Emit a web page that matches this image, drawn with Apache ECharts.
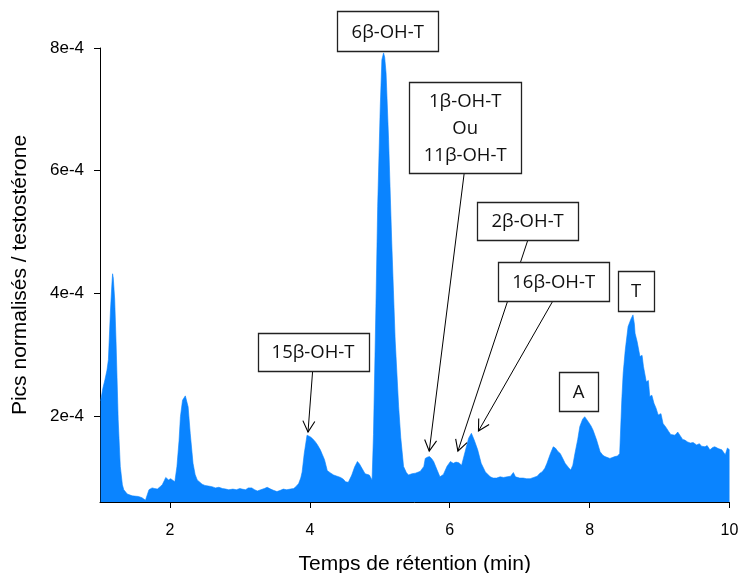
<!DOCTYPE html>
<html>
<head>
<meta charset="utf-8">
<script src="https://cdn.jsdelivr.net/npm/echarts@6/dist/echarts.min.js"></script>
<style>html,body{margin:0;padding:0;background:#fff;}#c{width:739px;height:573px;}</style>
</head>
<body>
<div id="c"></div>
<script>
// Retention time (min)
const times = [1.01,1.04,1.07,1.10,1.12,1.15,1.17,1.18,1.19,1.21,1.23,1.26,1.29,1.32,1.34,1.39,1.46,1.55,1.60,1.65,1.67,1.70,1.745,1.78,1.82,1.86,1.89,1.92,1.94,1.96,1.98,2.01,2.03,2.07,2.10,2.13,2.15,2.18,2.22,2.26,2.29,2.33,2.36,2.39,2.46,2.50,2.55,2.60,2.65,2.70,2.75,2.80,2.84,2.90,2.95,3.00,3.03,3.08,3.12,3.17,3.21,3.25,3.30,3.35,3.39,3.44,3.48,3.53,3.58,3.62,3.67,3.72,3.77,3.81,3.84,3.87,3.89,3.92,3.96,3.98,4.01,4.04,4.08,4.11,4.15,4.18,4.21,4.25,4.30,4.34,4.39,4.44,4.48,4.51,4.55,4.60,4.64,4.68,4.71,4.745,4.79,4.85,4.89,4.91,4.945,4.97,5.007,5.03,5.054,5.07,5.09,5.126,5.17,5.22,5.27,5.30,5.34,5.38,5.41,5.46,5.51,5.58,5.63,5.65,5.68,5.71,5.74,5.77,5.82,5.86,5.91,5.96,6.01,6.05,6.09,6.13,6.17,6.22,6.27,6.31,6.35,6.40,6.45,6.51,6.58,6.62,6.67,6.72,6.77,6.82,6.87,6.91,6.94,6.96,7.00,7.05,7.10,7.15,7.20,7.25,7.29,7.32,7.36,7.39,7.44,7.48,7.51,7.55,7.58,7.62,7.65,7.70,7.73,7.76,7.79,7.83,7.86,7.90,7.93,7.98,8.02,8.05,8.10,8.15,8.19,8.22,8.29,8.36,8.40,8.43,8.46,8.48,8.51,8.55,8.59,8.62,8.64,8.65,8.68,8.70,8.72,8.75,8.77,8.79,8.81,8.84,8.86,8.89,8.92,8.95,8.98,9.02,9.05,9.09,9.11,9.13,9.16,9.18,9.22,9.26,9.29,9.33,9.36,9.40,9.44,9.48,9.53,9.57,9.60,9.65,9.68,9.72,9.76,9.79,9.84,9.89,9.94,9.97,10.00];
// Normalised peaks / testosterone, in units of 1e-4
const signal = [2.25,2.45,2.59,2.75,2.92,3.73,4.15,4.32,4.25,3.90,3.19,1.94,1.18,0.88,0.80,0.73,0.70,0.69,0.67,0.63,0.62,0.80,0.83,0.82,0.81,0.85,0.88,0.95,1.00,0.97,0.96,0.98,0.97,0.93,1.18,1.60,1.99,2.26,2.33,2.15,1.72,1.23,1.05,0.96,0.89,0.87,0.86,0.85,0.83,0.84,0.82,0.81,0.80,0.81,0.80,0.82,0.81,0.80,0.83,0.83,0.80,0.78,0.80,0.82,0.84,0.81,0.79,0.77,0.79,0.81,0.80,0.81,0.82,0.86,0.90,0.99,1.09,1.39,1.69,1.70,1.66,1.63,1.58,1.53,1.45,1.37,1.29,1.11,1.07,1.04,1.02,1.00,0.97,0.93,0.92,1.04,1.17,1.26,1.22,1.15,1.06,1.04,0.96,1.70,3.79,5.42,7.05,7.81,7.92,7.85,7.59,6.51,4.87,3.24,2.15,1.65,1.18,1.08,1.04,1.06,1.07,1.10,1.18,1.31,1.33,1.34,1.31,1.26,1.12,1.01,1.05,1.18,1.26,1.23,1.25,1.24,1.20,1.42,1.64,1.72,1.61,1.45,1.23,1.09,1.01,0.99,0.99,1.01,1.00,1.01,1.02,1.08,1.01,1.00,0.99,0.99,0.98,0.98,1.00,1.02,1.07,1.09,1.15,1.23,1.39,1.50,1.48,1.42,1.39,1.30,1.23,1.16,1.12,1.20,1.39,1.62,1.83,1.95,1.99,1.91,1.84,1.77,1.61,1.42,1.36,1.34,1.31,1.34,1.35,1.39,2.26,2.70,3.08,3.46,3.58,3.65,3.50,3.35,3.21,3.22,2.97,2.99,2.81,2.82,2.56,2.58,2.32,2.34,2.21,2.13,2.02,2.04,1.88,1.82,1.84,1.75,1.70,1.72,1.69,1.74,1.69,1.62,1.61,1.58,1.56,1.57,1.53,1.55,1.51,1.50,1.52,1.45,1.49,1.50,1.47,1.45,1.37,1.48,1.45];

const xTicks = [2, 4, 6, 8, 10];
const yTicks = [2, 4, 6, 8];

// Annotation boxes: text and centre in data coordinates
const boxTexts = ['6β-OH-T', '1β-OH-T\nOu\n11β-OH-T', '15β-OH-T', '2β-OH-T', '16β-OH-T', 'A', 'T'];
const boxCentres = [[5.114, 8.27], [6.221, 6.70], [4.046, 3.05], [7.114, 5.18], [7.486, 4.19], [7.843, 2.40], [8.664, 4.04]];
const boxSizes = [[101, 40], [112, 91], [111, 38], [101, 38], [111, 39], [39, 39], [36, 40]];
// Arrows: start (box edge) and tip (peak), in data coordinates
const arrowFrom = [[6.207, 5.96], [7.117, 4.87], [7.474, 3.876], [4.04, 2.735]];
const arrowTo = [[5.707, 1.43], [6.117, 1.43], [6.411, 1.757], [3.974, 1.741]];

const data = times.map((t, i) => [t, signal[i]]);
const chart = echarts.init(document.getElementById('c'));
const axisFont = 'Liberation Sans, Arial, sans-serif';
chart.setOption({
  animation: false,
  grid: {left: 100, right: 9.5, top: 48, bottom: 71, containLabel: false, outerBoundsMode: 'none'},
  xAxis: {
    type: 'value', min: 1, max: 10,
    name: 'Temps de rétention (min)', nameLocation: 'middle', nameGap: 52,
    nameTextStyle: {fontFamily: axisFont, fontSize: 21, color: '#000'},
    axisLine: {lineStyle: {color: '#000', width: 1}},
    axisTick: {show: true, length: 6, customValues: xTicks, lineStyle: {color: '#000'}},
    axisLabel: {customValues: xTicks, margin: 21, fontFamily: axisFont, fontSize: 16, color: '#000'},
    splitLine: {show: false}
  },
  yAxis: {
    type: 'value', min: 0.6, max: 8,
    name: 'Pics normalisés / testostérone', nameLocation: 'middle', nameGap: 69,
    nameTextStyle: {fontFamily: axisFont, fontSize: 21, color: '#000'},
    axisLine: {show: true, lineStyle: {color: '#000', width: 1}},
    axisTick: {show: true, length: 6, customValues: yTicks, lineStyle: {color: '#000'}},
    axisLabel: {customValues: yTicks, margin: 16, fontFamily: axisFont, fontSize: 17, color: '#000',
      formatter: v => Math.round(v) + 'e-4'},
    splitLine: {show: false}
  },
  series: [{
    type: 'line', data: data, showSymbol: false, symbol: 'none',
    lineStyle: {width: 0.6, color: '#0A84FF'},
    areaStyle: {color: '#0A84FF', opacity: 1, origin: 'start'},
    z: 2
  }]
});

function drawAnnotations() {
  const els = [];
  arrowFrom.forEach((f, i) => {
    const p0 = chart.convertToPixel({gridIndex: 0}, f);
    const p1 = chart.convertToPixel({gridIndex: 0}, arrowTo[i]);
    els.push({type: 'line', z: 10, shape: {x1: p0[0], y1: p0[1], x2: p1[0], y2: p1[1]},
      style: {stroke: '#000', lineWidth: 1}});
    const ang = Math.atan2(p1[1] - p0[1], p1[0] - p0[0]);
    const L = 12.5, w = 0.5;
    els.push({type: 'polyline', z: 10, shape: {points: [
      [p1[0] - L * Math.cos(ang - w), p1[1] - L * Math.sin(ang - w)],
      [p1[0], p1[1]],
      [p1[0] - L * Math.cos(ang + w), p1[1] - L * Math.sin(ang + w)]
    ]}, style: {stroke: '#000', lineWidth: 1.1, fill: null}});
  });
  boxTexts.forEach((t, i) => {
    const c = chart.convertToPixel({gridIndex: 0}, boxCentres[i]);
    const [w, h] = boxSizes[i];
    els.push({type: 'rect', z: 20, shape: {x: Math.round(c[0] - w / 2) + 0.5, y: Math.round(c[1] - h / 2) + 0.5, width: w, height: h},
      style: {fill: '#fff', stroke: '#222', lineWidth: 1.3}});
    els.push({type: 'text', z: 21, style: {text: t, x: c[0], y: c[1] + 1, align: 'center', verticalAlign: 'middle',
      fontFamily: 'Open Sans, sans-serif', fontSize: 18.5, lineHeight: 27, fill: '#111'}});
  });
  chart.setOption({graphic: {elements: els}});
}
drawAnnotations();
</script>
</body>
</html>
